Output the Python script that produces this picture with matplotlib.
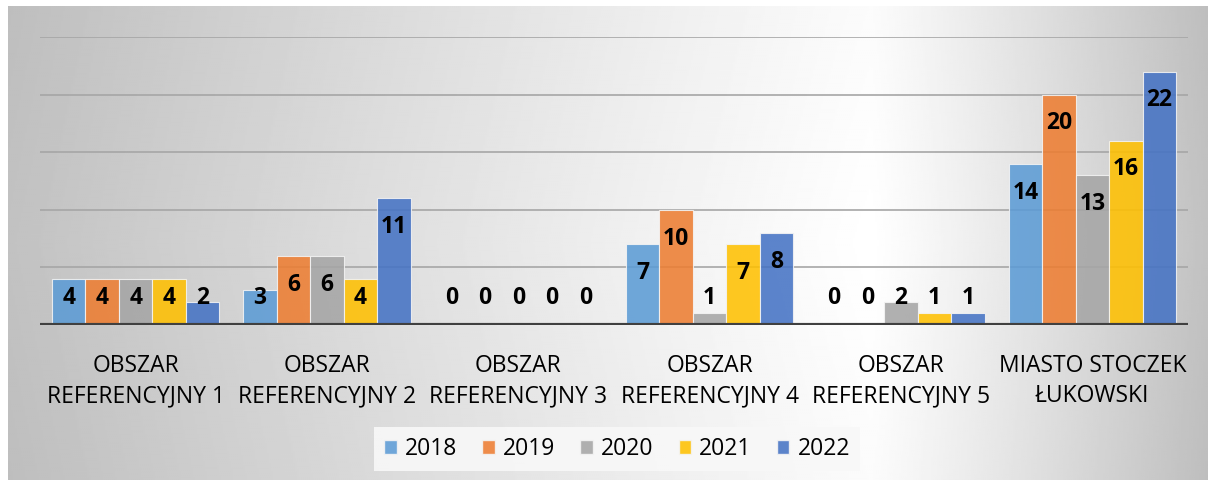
import numpy as np
import matplotlib.pyplot as plt
from matplotlib.patches import Patch

plt.rcParams['font.family'] = ['Open Sans', 'DejaVu Sans']

categories = ['OBSZAR\nREFERENCYJNY 1', 'OBSZAR\nREFERENCYJNY 2', 'OBSZAR\nREFERENCYJNY 3',
              'OBSZAR\nREFERENCYJNY 4', 'OBSZAR\nREFERENCYJNY 5', 'MIASTO STOCZEK\nŁUKOWSKI']
years = ['2018', '2019', '2020', '2021', '2022']
v2018 = [4, 3, 0, 7, 0, 14]
v2019 = [4, 6, 0, 10, 0, 20]
v2020 = [4, 6, 0, 1, 2, 13]
v2021 = [4, 4, 0, 7, 1, 16]
v2022 = [2, 11, 0, 8, 1, 22]
series = [v2018, v2019, v2020, v2021, v2022]
colors = ['#5B9BD5', '#ED7D31', '#A5A5A5', '#FFC000', '#4472C4']

fig = plt.figure(figsize=(12.08, 4.83), dpi=100)

# gradient backdrop of the chart frame
bg = fig.add_axes([8 / 1208, 3 / 483, 1200 / 1208, 474 / 483])
bg.set_axis_off()
xs = np.linspace(0, 1, 600)
ys = np.linspace(0, 1, 240)
X, Y = np.meshgrid(xs, ys)
cx = 0.72
t = np.where(X < cx, (cx - X) / cx, (X - cx) / (1 - cx))
t = np.clip(t, 0, 1) ** 1.1
shade = 1.0 - 0.24 * t - 0.03 * np.abs(Y - 0.5)
bg.imshow(shade, cmap='gray', vmin=0, vmax=1, aspect='auto', extent=(0, 1, 0, 1),
          interpolation='bilinear')
bg.set_xlim(0, 1)
bg.set_ylim(0, 1)

ax = fig.add_axes([40 / 1208, (483 - 325) / 483, 1148 / 1208, 288 / 483])
ax.set_facecolor('none')

x = np.arange(len(categories))
w = 0.175
for i, (vals, col) in enumerate(zip(series, colors)):
    pos = x + (i - 2) * w
    ax.bar(pos, vals, width=w, color=col, alpha=0.87, edgecolor='#f4f4f4',
           linewidth=0.8, zorder=3)
    for px, v in zip(pos, vals):
        ax.text(px, max(v - 2.5, 2.35), str(v), ha='center', va='center',
                fontsize=16.5, fontweight='bold', color='black', zorder=5)

ax.set_xlim(-0.5, 5.5)
ax.set_ylim(0, 25)
ax.set_yticks([5, 10, 15, 20, 25])
ax.yaxis.grid(True, color='#a6a6a6', linewidth=1.2, zorder=1)
ax.tick_params(axis='y', length=0, labelleft=False)
ax.axhline(0, color='#404040', linewidth=3, zorder=4)
for s in ax.spines.values():
    s.set_visible(False)

ax.set_xticks(x)
ax.set_xticklabels(categories, fontsize=16.5, linespacing=1.33)
ax.tick_params(axis='x', length=0, pad=21)

handles = [Patch(facecolor=c, alpha=0.87, edgecolor='#f4f4f4') for c in colors]
leg = fig.legend(handles, years, loc='center', bbox_to_anchor=(617 / 1208, 34 / 483),
                 ncol=5, fontsize=16.5, frameon=True, fancybox=False,
                 handlelength=0.55, handleheight=0.55, handletextpad=0.35,
                 columnspacing=1.1, borderpad=0.45)
leg.get_frame().set_facecolor('#f8f8f8')
leg.get_frame().set_edgecolor('none')
leg.get_frame().set_alpha(0.9)

fig.savefig('out.png', dpi=100)
